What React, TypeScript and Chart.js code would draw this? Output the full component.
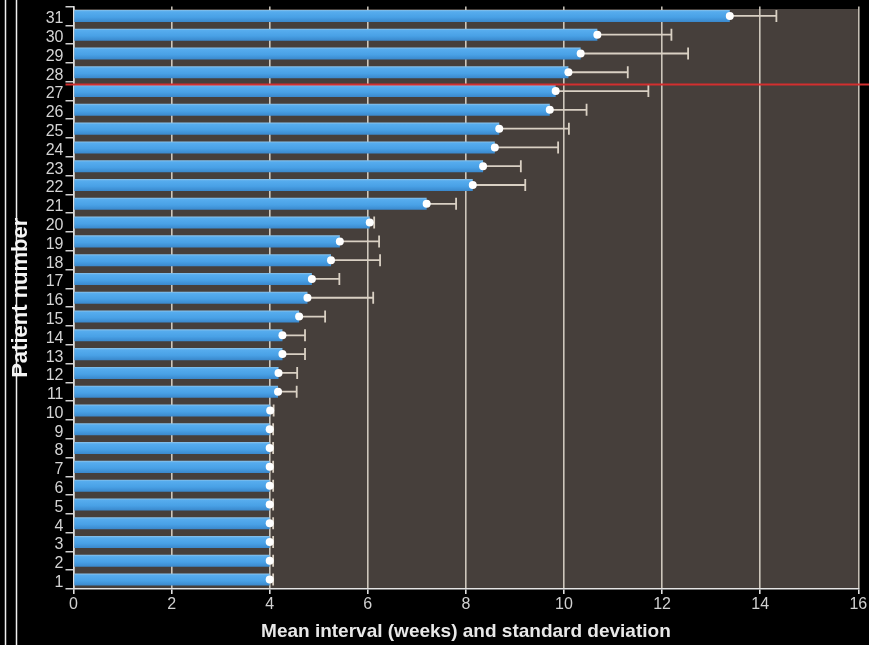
import { useEffect, useRef } from "react";
import { Chart, registerables } from "chart.js";

Chart.register(...registerables);

// Patient numbers, bottom (1) to top (31)
const patients = [
  "1", "2", "3", "4", "5", "6", "7", "8", "9", "10",
  "11", "12", "13", "14", "15", "16", "17", "18", "19", "20",
  "21", "22", "23", "24", "25", "26", "27", "28", "29", "30", "31",
];

// Mean interval between visits, in weeks
const meanWeeks = [
  4.0, 4.0, 4.0, 4.0, 4.0, 4.0, 4.0, 4.0, 4.0, 4.01,
  4.17, 4.18, 4.26, 4.26, 4.6, 4.77, 4.86, 5.25, 5.43, 6.04,
  7.2, 8.14, 8.35, 8.59, 8.68, 9.71, 9.83, 10.09, 10.34, 10.68, 13.38,
];

// Standard deviation of the interval, in weeks
const sdWeeks = [
  0.07, 0.07, 0.07, 0.07, 0.07, 0.07, 0.07, 0.07, 0.07, 0.07,
  0.38, 0.38, 0.46, 0.46, 0.53, 1.34, 0.56, 1.0, 0.8, 0.09,
  0.6, 1.07, 0.77, 1.29, 1.42, 0.75, 1.89, 1.21, 2.19, 1.51, 0.95,
];

const xMin = 0;
const xMax = 16;
const xStep = 2;

// Red separator sits between these two patient rows
const separatorUpper = "28";
const separatorLower = "27";
const separatorFraction = 0.65;

const CANVAS_W = 885;
const CANVAS_H = 645;

const decorPlugin = {
  id: "decor",
  beforeDraw(chart: any) {
    const { ctx, chartArea } = chart;
    ctx.save();
    ctx.fillStyle = "#000000";
    ctx.fillRect(0, 0, chart.width, chart.height);
    ctx.fillStyle = "#463f3b";
    ctx.fillRect(
      chartArea.left,
      chartArea.top + 2.5,
      chartArea.right - chartArea.left,
      chartArea.bottom - chartArea.top - 2.5
    );
    // frame lines along the left edge
    ctx.strokeStyle = "#f0f0f0";
    ctx.lineWidth = 1.5;
    ctx.beginPath();
    ctx.moveTo(5.5, 0);
    ctx.lineTo(5.5, chart.height);
    ctx.moveTo(16.5, 0);
    ctx.lineTo(16.5, chart.height);
    ctx.stroke();
    ctx.restore();
  },
  beforeDatasetsDraw(chart: any) {
    // one-sided error whiskers: mean -> mean + sd, with an end cap
    const { ctx } = chart;
    const xs = chart.scales.x;
    const ys = chart.scales.y;
    ctx.save();
    ctx.strokeStyle = "#d9d0c3";
    ctx.lineWidth = 1.8;
    for (let i = 0; i < meanWeeks.length; i++) {
      const y = ys.getPixelForValue(i);
      const x0 = xs.getPixelForValue(meanWeeks[i]);
      const x1 = xs.getPixelForValue(meanWeeks[i] + sdWeeks[i]);
      ctx.beginPath();
      ctx.moveTo(x0, y);
      ctx.lineTo(x1, y);
      ctx.moveTo(x1, y - 6);
      ctx.lineTo(x1, y + 6);
      ctx.stroke();
    }
    ctx.restore();
  },
  afterDraw(chart: any) {
    const { ctx, chartArea } = chart;
    const ys = chart.scales.y;
    const a = ys.getPixelForValue(patients.indexOf(separatorUpper));
    const b = ys.getPixelForValue(patients.indexOf(separatorLower));
    const y = a + (b - a) * separatorFraction;
    ctx.save();
    ctx.strokeStyle = "#d22f2f";
    ctx.lineWidth = 2;
    ctx.beginPath();
    ctx.moveTo(chartArea.left - 8, y);
    ctx.lineTo(chart.width, y);
    ctx.stroke();
    ctx.restore();
  },
};

function barFill(context: any) {
  const chart = context.chart;
  const ys = chart.scales && chart.scales.y;
  if (!chart.chartArea || !ys || context.type !== "data") return "#4aa3e8";
  const c = ys.getPixelForValue(context.dataIndex);
  const h = 12;
  const g = chart.ctx.createLinearGradient(0, c - h / 2, 0, c + h / 2);
  g.addColorStop(0, "#8cc3ea");
  g.addColorStop(0.15, "#56acee");
  g.addColorStop(0.6, "#49a1e6");
  g.addColorStop(1, "#3a88cc");
  return g;
}

export default function App() {
  const canvasRef = useRef<HTMLCanvasElement | null>(null);

  useEffect(() => {
    const canvas = canvasRef.current;
    if (!canvas) return;
    const chart = new Chart(canvas, {
      type: "bar",
      data: {
        labels: patients,
        datasets: [
          {
            type: "line",
            label: "mean",
            data: meanWeeks,
            showLine: false,
            pointRadius: 4,
            pointHoverRadius: 4,
            pointBackgroundColor: "#ffffff",
            pointBorderWidth: 0,
            order: 0,
          } as any,
          {
            type: "bar",
            label: "interval",
            data: meanWeeks,
            backgroundColor: barFill,
            borderWidth: 0,
            barPercentage: 0.64,
            categoryPercentage: 1,
            order: 1,
          },
        ],
      },
      options: {
        indexAxis: "y",
        responsive: false,
        animation: false,
        devicePixelRatio: 1,
        layout: { padding: { top: 6.5, right: 26.7, bottom: 0, left: 0 } },
        plugins: {
          legend: { display: false },
          tooltip: { enabled: false },
        },
        scales: {
          x: {
            type: "linear",
            min: xMin,
            max: xMax,
            z: 1,
            ticks: {
              stepSize: xStep,
              color: "#d0d0d0",
              font: { family: "Arial, 'Liberation Sans', sans-serif", size: 16 },
              padding: 1,
            },
            grid: {
              color: "rgba(240, 232, 220, 0.8)",
              lineWidth: 1.6,
              tickLength: 5,
              tickColor: "#e0e0e0",
            },
            border: { display: true, color: "#e4e4e4", width: 1.5 },
            title: {
              display: true,
              text: "Mean interval (weeks) and standard deviation",
              color: "#e8e8e8",
              font: { family: "Arial, 'Liberation Sans', sans-serif", size: 19, weight: "bold" },
              padding: { top: 0, bottom: 1.5 },
            },
            afterFit(scale: any) {
              scale.height = 56;
            },
          },
          y: {
            type: "category",
            reverse: true,
            offset: true,
            ticks: {
              color: "#d4d4d4",
              font: { family: "Arial, 'Liberation Sans', sans-serif", size: 16 },
              padding: 2,
              labelOffset: 3,
              autoSkip: false,
            },
            grid: {
              offset: true,
              drawOnChartArea: false,
              drawTicks: true,
              tickLength: 8,
              tickColor: "#d0d0d0",
              lineWidth: 1.5,
            },
            border: { display: true, color: "#e0e0e0", width: 1.5 },
            title: {
              display: true,
              text: "Patient number",
              color: "#f4f4f4",
              font: { family: "Arial, 'Liberation Sans', sans-serif", size: 22, weight: "bold" },
              padding: { top: 7.5, bottom: 0 },
            },
            afterFit(scale: any) {
              scale.width = 73.5;
              scale.paddingTop = 0;
              scale.paddingBottom = 0;
            },
          },
        },
      },
      plugins: [decorPlugin],
    });
    return () => chart.destroy();
  }, []);

  return (
    <div
      style={{
        position: "fixed",
        left: 0,
        top: 0,
        width: 869,
        height: 645,
        overflow: "hidden",
        background: "#000",
      }}
    >
      <canvas
        ref={canvasRef}
        width={CANVAS_W}
        height={CANVAS_H}
        style={{ display: "block", width: CANVAS_W, height: CANVAS_H }}
      />
    </div>
  );
}
